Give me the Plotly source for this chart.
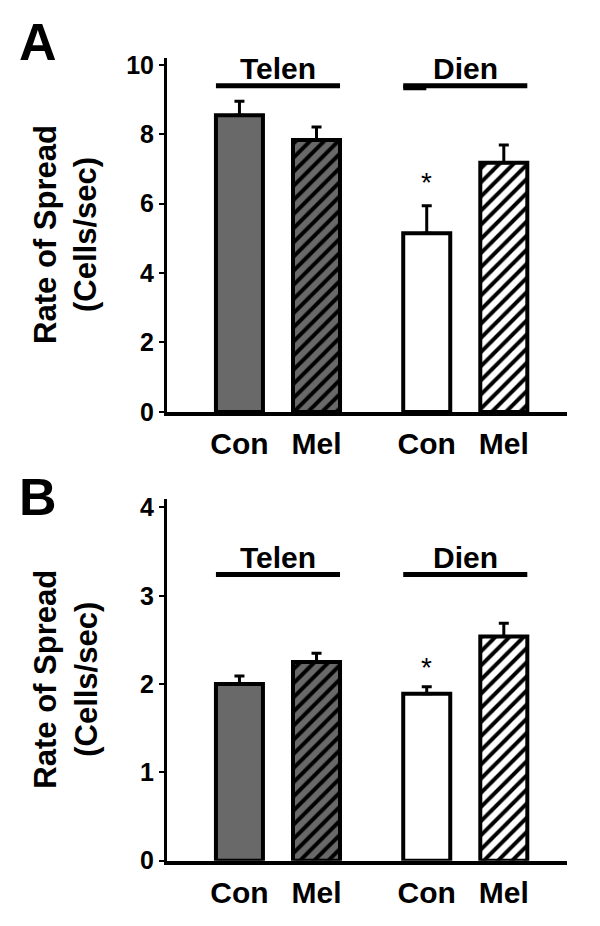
import plotly.graph_objects as go

# ---- data ----
groups = ["Telen", "Dien"]
conditions = ["Con", "Mel"]
tick_labels = ["Con", "Mel", "Con", "Mel"]

a_values = [8.55, 7.83, 5.15, 7.18]
a_errors = [0.40, 0.38, 0.79, 0.51]
b_values = [2.00, 2.25, 1.89, 2.54]
b_errors = [0.09, 0.10, 0.08, 0.15]

a_yticks = [0, 2, 4, 6, 8, 10]
b_yticks = [0, 1, 2, 3, 4]

a_signif = [False, False, True, False]
b_signif = [False, False, True, False]

# ---- layout constants ----
GROUP_STEP = 2.43
BAR_W = 0.61
FONT = "Liberation Sans"
GRAY = "#696969"
H = 926.0


def py(p):
    """pixel row (from top) -> paper fraction, with empirical render correction"""
    return 1 - ((p - 6) / 0.98) / H


xpos = [g * GROUP_STEP + c for g in range(len(groups)) for c in range(len(conditions))]
fills = [GRAY, GRAY, "white", "white"]
patterns = ["", "/", "", "/"]

fig = go.Figure()


def add_panel(values, errors, xa, ya):
    for i in range(len(values)):
        pat = dict(shape=patterns[i], fgcolor="black", fgopacity=1, size=10,
                   solidity=0.4, fillmode="overlay") if patterns[i] else dict(shape="")
        fig.add_trace(go.Bar(
            x=[xpos[i]], y=[values[i]], width=BAR_W,
            marker=dict(color=fills[i], line=dict(color="black", width=4), pattern=pat),
            error_y=dict(type="data", symmetric=False, array=[errors[i]],
                         arrayminus=[0], color="black", thickness=3, width=5),
            xaxis=xa, yaxis=ya, showlegend=False, hoverinfo="skip",
        ))


add_panel(a_values, a_errors, "x", "y")
add_panel(b_values, b_errors, "x2", "y2")

xdom = [167 / 600, 567 / 600]
ydomA = [py(412), py(57)]
ydomB = [py(862), py(499)]

xcommon = dict(range=[-0.94, 4.25], tickvals=xpos, ticktext=tick_labels,
               showline=True, linecolor="black", linewidth=4, ticks="",
               showgrid=False, zeroline=False, domain=xdom, fixedrange=True,
               tickfont=dict(family=FONT, size=30, color="black", weight="bold"),
               ticklabelstandoff=2)
ycommon = dict(showline=True, linecolor="black", linewidth=3, ticks="outside",
               ticklen=5, tickwidth=2, tickcolor="black", showgrid=False,
               zeroline=False, fixedrange=True,
               tickfont=dict(family=FONT, size=25, color="black", weight="bold"))

fig.update_layout(
    width=600, height=926, margin=dict(l=0, r=0, t=0, b=0),
    paper_bgcolor="white", plot_bgcolor="white", bargap=0, barmode="overlay",
    hovermode=False,
    xaxis=dict(anchor="y", **xcommon),
    xaxis2=dict(anchor="y2", **xcommon),
    yaxis=dict(anchor="x", domain=ydomA, range=[0, 10.2], tickvals=a_yticks, **ycommon),
    yaxis2=dict(anchor="x2", domain=ydomB, range=[0, 4.1], tickvals=b_yticks, **ycommon),
)

ann = []
shapes = []


def panel_decor(xr, yr, line_y, label_y, values, errors, signif, star_gap):
    for gi, g in enumerate(groups):
        xs = xpos[gi * len(conditions):(gi + 1) * len(conditions)]
        x0 = xs[0] - BAR_W / 2
        x1 = xs[-1] + BAR_W / 2
        shapes.append(dict(type="line", xref=xr, yref=yr, x0=x0, x1=x1,
                           y0=line_y, y1=line_y, line=dict(color="black", width=5)))
        ann.append(dict(xref=xr, yref=yr, x=(xs[0] + xs[-1]) / 2, y=label_y,
                        text=g, showarrow=False, yanchor="middle",
                        font=dict(family=FONT, size=30, color="black", weight="bold")))
    for i, s in enumerate(signif):
        if s:
            ann.append(dict(xref=xr, yref=yr, x=xpos[i], y=values[i] + errors[i] + star_gap,
                            text="*", showarrow=False, yanchor="middle",
                            font=dict(family=FONT, size=28, color="black")))


panel_decor("x", "y", 9.40, 9.88, a_values, a_errors, a_signif, 0.67)
panel_decor("x2", "y2", 3.24, 3.43, b_values, b_errors, b_signif, 0.22)

# small stray dash under the left end of the "Dien" line in panel A
shapes.append(dict(type="line", xref="x", yref="y", x0=xpos[2] - BAR_W / 2,
                   x1=xpos[2] - BAR_W / 2 + 0.3, y0=9.34, y1=9.34,
                   line=dict(color="black", width=5)))

title_text = "Rate of Spread<br>(Cells/sec)"
for yc in [(ydomA[0] + ydomA[1]) / 2, (ydomB[0] + ydomB[1]) / 2]:
    ann.append(dict(xref="paper", yref="paper", x=66 / 600, y=yc, text=title_text,
                    textangle=-90, showarrow=False, xanchor="center", yanchor="middle",
                    font=dict(family=FONT, size=31, color="black", weight="bold")))

ann.append(dict(xref="paper", yref="paper", x=38 / 600, y=py(41.5), text="A",
                showarrow=False, xanchor="center", yanchor="middle",
                font=dict(family=FONT, size=52, color="black", weight="bold")))
ann.append(dict(xref="paper", yref="paper", x=38 / 600, y=py(497), text="B",
                showarrow=False, xanchor="center", yanchor="middle",
                font=dict(family=FONT, size=52, color="black", weight="bold")))

fig.update_layout(annotations=ann, shapes=shapes)
fig.write_html("out.html", config={"displayModeBar": False, "staticPlot": True},
               post_script="document.body.style.margin='0px';")
